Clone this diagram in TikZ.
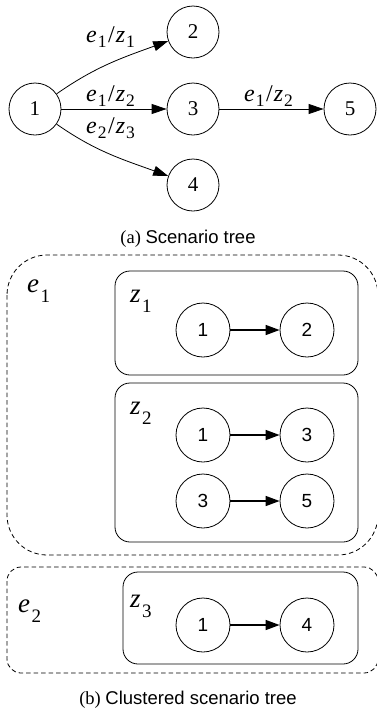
\documentclass[tikz,border=0pt]{standalone}
\usepackage{fontspec}
\setmainfont{Liberation Serif}
\setsansfont{Liberation Sans}
\usetikzlibrary{arrows.meta}

% italic letter with a lowered upright index
\newcommand{\tsub}[2]{\textit{#1}\kern1pt\raisebox{-5pt}{\fontsize{17.5}{17.5}\selectfont #2}}
\newcommand{\edgelab}[4]{\tsub{#1}{#2}\kern1.5pt/\kern1pt\tsub{#3}{#4}}
\newcommand{\bsub}[2]{\textit{#1}\kern1.5pt\raisebox{-10pt}{\fontsize{19}{19}\selectfont #2}}

\tikzset{
  treenode/.style={circle, draw, line width=0.8pt, minimum size=52pt, inner sep=0pt,
    font=\fontsize{21}{21}\selectfont},
  treeedge/.style={line width=0.8pt, -{Triangle[length=15pt,width=10pt]}},
  edgetext/.style={inner sep=0pt, anchor=base west, font=\fontsize{24}{24}\selectfont},
  stagenode/.style={circle, draw, line width=0.8pt, minimum size=54pt, inner sep=0pt,
    font=\sffamily\fontsize{19}{19}\selectfont},
  stageedge/.style={line width=1.5pt, -{Triangle[length=14pt,width=10pt]}},
  cluster/.style={draw, line width=0.8pt, rounded corners=15pt},
  group/.style={draw, line width=0.8pt, dash pattern=on 4.5pt off 3pt},
  clustertext/.style={inner sep=0pt, anchor=base west, font=\fontsize{27}{27}\selectfont},
  caption/.style={inner sep=0pt, font=\fontsize{18.5}{18.5}\selectfont},
}

\begin{document}
\begin{tikzpicture}[x=1pt, y=1pt]
\useasboundingbox (0,0) rectangle (376,-713);

% ---------- (a) scenario tree ----------
\node[treenode] (t1) at (35,-109) {1};
\node[treenode] (t2) at (193,-32) {2};
\node[treenode] (t3) at (193,-109) {3};
\node[treenode] (t4) at (193,-185) {4};
\node[treenode] (t5) at (350,-109) {5};

\draw[treeedge] (t1) to[out=35, in=200] (t2);
\draw[treeedge] (t1) -- (t3);
\draw[treeedge] (t1) to[out=-35, in=160] (t4);
\draw[treeedge] (t3) -- (t5);

\node[edgetext] (l12) at (86,-42) {\edgelab{e}{1}{z}{1}};
\node[edgetext] (l13) at (86,-101) {\edgelab{e}{1}{z}{2}};
\node[edgetext] (l14) at (86,-133) {\edgelab{e}{2}{z}{3}};
\node[edgetext] (l35) at (244,-101) {\edgelab{e}{1}{z}{2}};

\node[caption] (capa) at (188,-239) {(a) \sffamily Scenario tree};

% ---------- (b) clustered scenario tree ----------
\draw[group, rounded corners=40pt] (7,-255) rectangle (378,-555);
\draw[group, rounded corners=14pt] (7,-567) rectangle (378,-673);

\draw[cluster] (115,-271) rectangle (358,-375);
\draw[cluster] (115,-383) rectangle (358,-542);
\draw[cluster] (123,-572) rectangle (358,-664);

\node[clustertext] (ge1) at (27,-292) {\bsub{e}{1}};
\node[clustertext] (ge2) at (18,-612) {\bsub{e}{2}};
\node[clustertext] (cz1) at (130,-302) {\bsub{z}{1}};
\node[clustertext] (cz2) at (130,-414) {\bsub{z}{2}};
\node[clustertext] (cz3) at (130,-607) {\bsub{z}{3}};

\node[stagenode] (a1) at (203,-330) {1};
\node[stagenode] (a2) at (307,-330) {2};
\node[stagenode] (b1) at (203,-435) {1};
\node[stagenode] (b3) at (307,-435) {3};
\node[stagenode] (c3) at (203,-501) {3};
\node[stagenode] (c5) at (307,-501) {5};
\node[stagenode] (d1) at (203,-625) {1};
\node[stagenode] (d4) at (307,-625) {4};

\draw[stageedge] (a1) -- (a2);
\draw[stageedge] (b1) -- (b3);
\draw[stageedge] (c3) -- (c5);
\draw[stageedge] (d1) -- (d4);

\node[caption] (capb) at (188,-700) {(b) \sffamily Clustered scenario tree};
\end{tikzpicture}
\end{document}
